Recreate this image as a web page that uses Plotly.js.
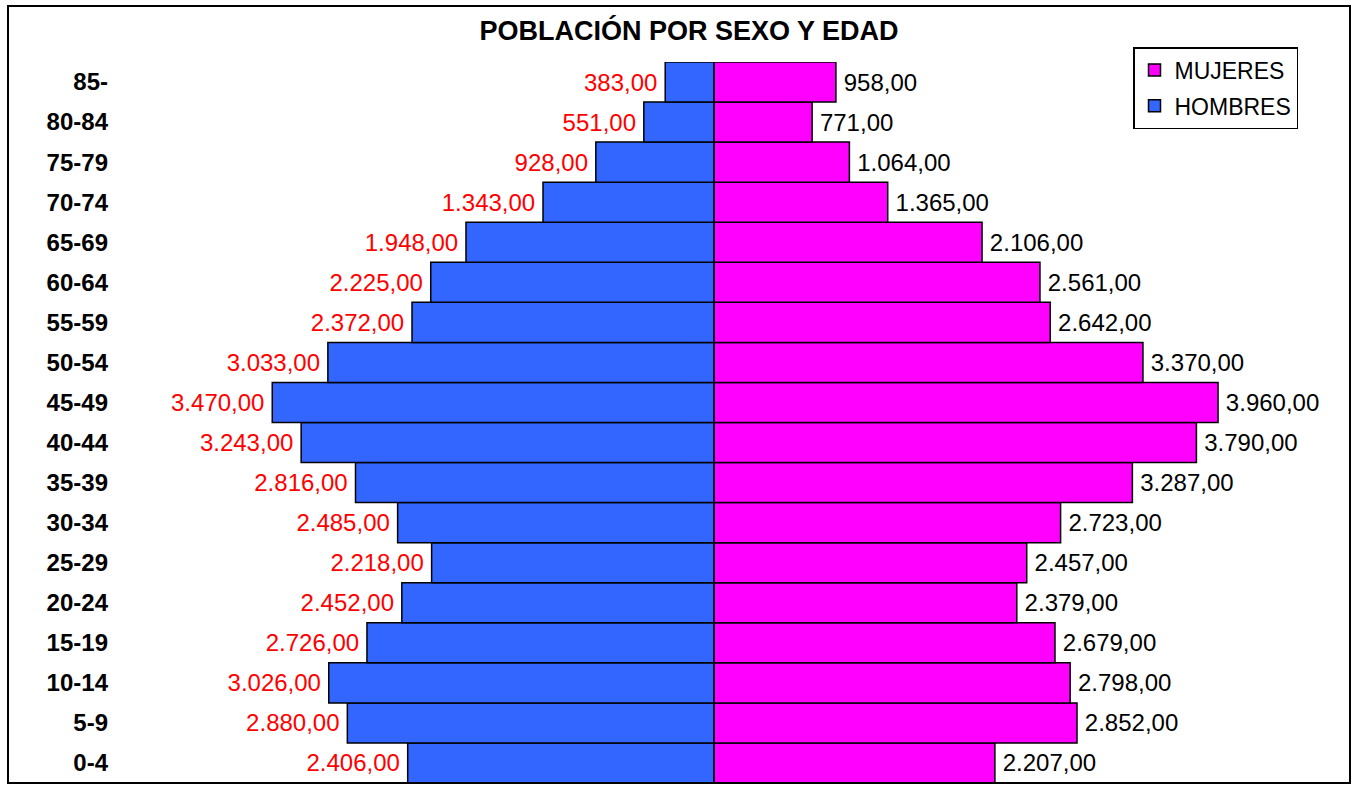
<!DOCTYPE html>
<html>
<head>
<meta charset="utf-8">
<script src="https://cdn.plot.ly/plotly-3.0.1.min.js"></script>
<style>html,body{margin:0;padding:0;background:#fff;}#chart{width:1353px;height:785px;}</style>
</head>
<body>
<div id="chart"></div>
<script>
const ageGroups = ["0-4","5-9","10-14","15-19","20-24","25-29","30-34","35-39","40-44","45-49","50-54","55-59","60-64","65-69","70-74","75-79","80-84","85-"];
const hombres = [2406,2880,3026,2726,2452,2218,2485,2816,3243,3470,3033,2372,2225,1948,1343,928,551,383];
const mujeres = [2207,2852,2798,2679,2379,2457,2723,3287,3790,3960,3370,2642,2561,2106,1365,1064,771,958];
const chartTitle = "POBLACIÓN POR SEXO Y EDAD";
const seriesNames = ["MUJERES","HOMBRES"];

function fmt(v){
  const s = Math.abs(v).toFixed(2);
  let parts = s.split('.');
  const i = parts[0].replace(/\B(?=(\d{3})+(?!\d))/g, '.');
  return i + ',' + parts[1];
}

const W = 1353, H = 785;
const mL = 120, mR = 13, mT = 62, mB = 2;
const plotW = W - mL - mR, plotH = H - mT - mB;
const xmin = -4666, xmax = 4918;
const zeroPos = (0 - xmin) / (xmax - xmin);
const FONT = "Liberation Sans, Arial, sans-serif";

const traceM = {
  type: 'bar', orientation: 'h', name: seriesNames[0], legendgroup: 'm',
  y: ageGroups, x: mujeres,
  marker: {color: '#FF00FF', line: {color: '#000000', width: 1.5}},
  text: mujeres.map(v => '\u2009' + fmt(v)), texttemplate: '%{text}', textposition: 'outside',
  textfont: {family: FONT, size: 24, color: '#000000'},
  constraintext: 'none', cliponaxis: false, hoverinfo: 'y+text'
};
const traceH = {
  type: 'bar', orientation: 'h', name: seriesNames[1], legendgroup: 'h',
  y: ageGroups, x: hombres.map(v => -v),
  marker: {color: '#3366FF', line: {color: '#000000', width: 1.5}},
  text: hombres.map(v => fmt(v) + '\u2009'), texttemplate: '%{text}', textposition: 'outside',
  textfont: {family: FONT, size: 24, color: '#FF0000'},
  constraintext: 'none', cliponaxis: false, hoverinfo: 'y+text'
};

const layout = {
  width: W, height: H,
  margin: {l: mL, r: mR, t: mT, b: mB, pad: 0},
  paper_bgcolor: '#ffffff', plot_bgcolor: '#ffffff',
  barmode: 'relative', bargap: 0,
  font: {family: FONT, size: 24, color: '#000000'},
  title: {text: chartTitle, font: {family: FONT, size: 27, color: '#000000', weight: 'bold'},
          x: (689 - mL) / plotW, xref: 'paper', xanchor: 'center', y: 1 - 31 / H, yref: 'container', yanchor: 'middle'},
  xaxis: {range: [xmin, xmax], showgrid: false, zeroline: false, showticklabels: false, ticks: '', showline: false, fixedrange: true},
  yaxis: {type: 'category', categoryorder: 'array', categoryarray: ageGroups, range: [-0.5, ageGroups.length - 0.5],
          showgrid: false, zeroline: false, ticks: '', showline: false, ticklabelstandoff: 11,
          tickfont: {family: FONT, size: 24, color: '#000000', weight: 'bold'}, fixedrange: true},
  yaxis2: {overlaying: 'y', anchor: 'free', side: 'left', position: zeroPos,
           range: [-0.5, ageGroups.length - 0.5], tickvals: ageGroups.map((_, i) => i),
           showticklabels: false, ticks: 'inside', ticklen: 4, tickwidth: 2, tickcolor: '#000000',
           showline: true, linecolor: '#000000', linewidth: 2, showgrid: false, zeroline: false, fixedrange: true},
  legend: {x: (1133 - mL) / plotW, y: (H - mB - 47) / plotH, xanchor: 'left', yanchor: 'top',
           bgcolor: '#ffffff', bordercolor: '#000000', borderwidth: 1.5, tracegroupgap: 3,
           font: {family: FONT, size: 23, color: '#000000'}, traceorder: 'grouped'},
  showlegend: true,
  shapes: [{type: 'rect', xref: 'paper', yref: 'paper',
            x0: (8 - mL) / plotW, x1: (1350 - mL) / plotW,
            y0: (H - mB - 783) / plotH, y1: (H - mB - 6) / plotH,
            line: {color: '#000000', width: 2}, fillcolor: 'rgba(0,0,0,0)', layer: 'above'}]
};

Plotly.newPlot('chart', [traceM, traceH], layout, {displayModeBar: false, staticPlot: true});
</script>
</body>
</html>
